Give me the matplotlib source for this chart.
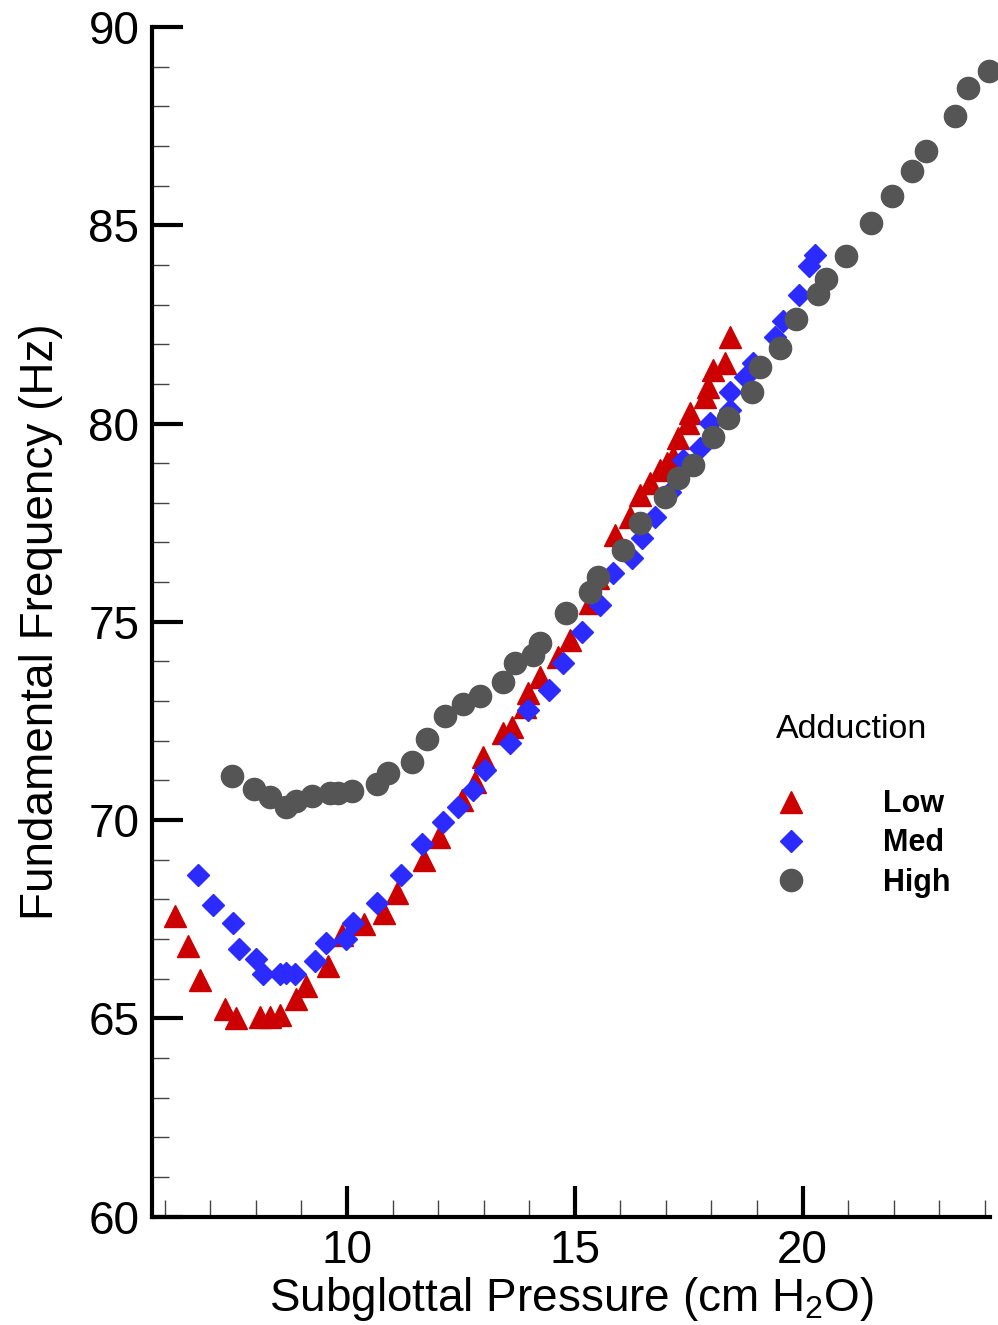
import numpy as np
import matplotlib
matplotlib.use("Agg")
import matplotlib.pyplot as plt
from matplotlib.ticker import MultipleLocator

plt.rcParams['font.family'] = ['Liberation Sans', 'DejaVu Sans']
plt.rcParams['mathtext.fontset'] = 'custom'
plt.rcParams['mathtext.rm'] = 'Liberation Sans'
plt.rcParams['mathtext.it'] = 'Liberation Sans'

# Low adduction
low_p = [6.23, 6.52, 6.78, 7.33, 7.57, 8.10, 8.32, 8.54, 8.89, 9.11, 9.59, 9.90,
         10.38, 10.82, 11.09, 11.70, 12.03, 12.52, 12.80, 12.98, 13.42, 13.62,
         13.90, 13.97, 14.23, 14.63, 14.89, 15.33, 15.51, 15.88, 16.21, 16.43,
         16.65, 16.87, 17.02, 17.15, 17.26, 17.48, 17.53, 17.86, 17.92, 18.03,
         18.30, 18.41]
low_f = [67.58, 66.82, 65.97, 65.24, 65.01, 65.04, 65.04, 65.08, 65.49, 65.82,
         66.32, 67.10, 67.38, 67.66, 68.16, 68.99, 69.57, 70.50, 70.96, 71.59,
         72.19, 72.34, 72.85, 73.20, 73.60, 74.11, 74.54, 75.47, 76.10, 77.18,
         77.64, 78.19, 78.50, 78.82, 79.00, 79.15, 79.63, 80.01, 80.26, 80.66,
         80.92, 81.35, 81.52, 82.18]

# Medium adduction
med_p = [6.74, 7.05, 7.49, 7.64, 8.01, 8.16, 8.52, 8.67, 8.85, 9.29, 9.55, 9.97,
         10.14, 10.65, 11.18, 11.64, 12.10, 12.43, 12.76, 13.02, 13.57, 13.97,
         14.43, 14.74, 15.15, 15.55, 15.84, 16.25, 16.47, 16.76, 17.09, 17.37,
         17.75, 17.97, 18.41, 18.41, 18.74, 18.91, 19.40, 19.57, 19.92, 20.14,
         20.27]
med_f = [68.61, 67.86, 67.41, 66.75, 66.50, 66.12, 66.12, 66.14, 66.12, 66.45,
         66.90, 67.00, 67.40, 67.91, 68.61, 69.39, 69.95, 70.33, 70.76, 71.26,
         71.94, 72.78, 73.28, 73.96, 74.74, 75.42, 76.23, 76.61, 77.11, 77.64,
         78.27, 79.08, 79.38, 80.01, 80.34, 80.79, 81.17, 81.52, 82.18, 82.58,
         83.24, 83.97, 84.25]

# High adduction
high_p = [7.48, 7.95, 8.30, 8.67, 8.89, 9.24, 9.62, 9.81, 10.12, 10.65, 10.89,
          11.42, 11.75, 12.16, 12.54, 12.91, 13.42, 13.68, 14.08, 14.23, 14.80,
          15.33, 15.51, 16.05, 16.43, 16.98, 17.26, 17.59, 18.03, 18.36, 18.89,
          19.07, 19.51, 19.86, 20.34, 20.52, 20.96, 21.51, 21.97, 22.41, 22.71,
          23.35, 23.62, 24.10]
high_f = [71.11, 70.78, 70.58, 70.33, 70.48, 70.61, 70.68, 70.68, 70.73, 70.91,
          71.18, 71.46, 72.04, 72.62, 72.92, 73.12, 73.48, 73.96, 74.16, 74.46,
          75.22, 75.75, 76.13, 76.81, 77.49, 78.15, 78.63, 78.96, 79.66, 80.14,
          80.80, 81.43, 81.91, 82.64, 83.27, 83.65, 84.23, 85.06, 85.74, 86.37,
          86.87, 87.75, 88.46, 88.89]

fig = plt.figure(figsize=(9.98, 13.25), dpi=100)
ax = fig.add_axes([0.1523, 0.0817, 0.840, 0.898])

ax.plot(low_p, low_f, ls='none', marker='^', ms=16, color='#cc0000',
        mec='#cc0000', label='Low', clip_on=False)
ax.plot(med_p, med_f, ls='none', marker='D', ms=11, color='#2b2bff',
        mec='#2b2bff', label='Med', clip_on=False)
ax.plot(high_p, high_f, ls='none', marker='o', ms=16, color='#555555',
        mec='#555555', label='High', clip_on=False)

ax.set_xlim(5.72, 24.12)
ax.set_ylim(60, 90)

# axes style
for s in ['top', 'right']:
    ax.spines[s].set_visible(False)
for s in ['left', 'bottom']:
    ax.spines[s].set_linewidth(3)

ax.xaxis.set_major_locator(MultipleLocator(5))
ax.xaxis.set_minor_locator(MultipleLocator(1))
ax.yaxis.set_major_locator(MultipleLocator(5))
ax.yaxis.set_minor_locator(MultipleLocator(1))
ax.tick_params(which='major', direction='in', length=22, width=3,
               labelsize=33)
ax.tick_params(which='minor', direction='in', length=12, width=1,
               color='#444444')
ax.tick_params(axis='x', which='major', pad=9)
ax.tick_params(axis='y', which='major', pad=9)

ax.set_xlabel('Subglottal Pressure (cm H$_2$O)', fontsize=33, labelpad=1)
ax.set_ylabel('Fundamental Frequency (Hz)', fontsize=33, labelpad=18)

leg = ax.legend(loc='upper left', bbox_to_anchor=(0.73, 0.433), frameon=False,
                title='Adduction', title_fontsize=24.5,
                prop={'weight': 'bold', 'size': 22}, alignment='left',
                handlelength=1.0, handletextpad=2.5, labelspacing=0.3,
                borderaxespad=0)
leg._legend_box.sep = 32

fig.savefig('out.png', dpi=100)
